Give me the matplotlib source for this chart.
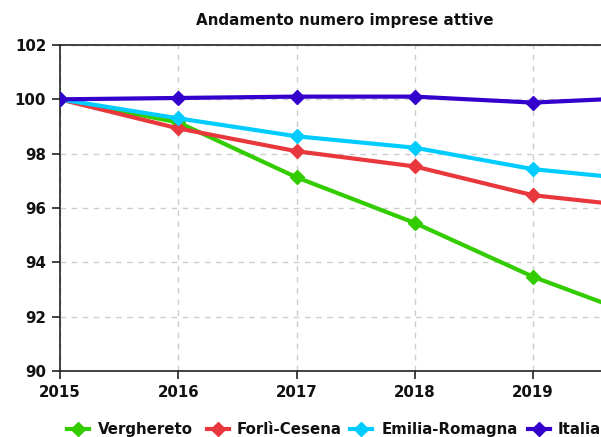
import matplotlib
matplotlib.use("Agg")
import matplotlib.pyplot as plt
from matplotlib.lines import Line2D

years = [2015, 2016, 2017, 2018, 2019, 2020]
verghereto = [100.0, 99.15, 97.13, 95.45, 93.47, 91.85]
forli = [100.0, 98.93, 98.09, 97.53, 96.47, 96.0]
emilia = [100.0, 99.3, 98.64, 98.22, 97.43, 97.0]
italia = [100.0, 100.05, 100.1, 100.1, 99.88, 100.08]

names = ["Verghereto", "Forlì-Cesena", "Emilia-Romagna", "Italia"]
values = [verghereto, forli, emilia, italia]
colors = ["#33cc00", "#e8383d", "#00ccff", "#3300cc"]
yticks = [90, 92, 94, 96, 98, 100, 102]
xticks = [2015, 2016, 2017, 2018, 2019]

W, H = 601, 437
fig = plt.figure(figsize=(W / 100, H / 100), dpi=100)
left, right_px = 60, 60 + 5 * 118.25
top, bottom = 45, 371
ax = fig.add_axes([left / W, 1 - bottom / H, (right_px - left) / W, (bottom - top) / H])

for name, vals, col in zip(names, values, colors):
    ax.plot(years, vals, color=col, lw=3, marker="D", markersize=7.5, label=name,
            clip_on=True, zorder=3)

ax.set_xlim(2015, 2020)
ax.set_ylim(90, 102)
ax.set_xticks(xticks)
ax.set_yticks(yticks)
ax.grid(True, color="#cccccc", linestyle=(0, (4, 4)), linewidth=1)
for s in ["left", "top", "bottom"]:
    ax.spines[s].set_color("#222222")
    ax.spines[s].set_linewidth(1.2)
ax.tick_params(axis="both", direction="out", length=6, width=1.2, color="#222222",
               labelsize=10.8, pad=4)
for lab in ax.get_xticklabels() + ax.get_yticklabels():
    lab.set_fontweight("bold")
    lab.set_color("#111111")

fig.text(345 / W, 1 - 21 / H, "Andamento numero imprese attive", ha="center", va="center",
         fontsize=10.9, fontweight="bold", color="#111111")

# manual legend (layout positions in pixels)
handle_x = [67, 207, 350, 528]
text_x = [98, 237, 382, 558]
handle_y, text_base = 429, 434
for name, col, hx, tx in zip(names, colors, handle_x, text_x):
    fig.add_artist(Line2D([hx / W, (hx + 22) / W], [1 - handle_y / H] * 2,
                          transform=fig.transFigure, color=col, lw=3))
    fig.add_artist(Line2D([(hx + 11) / W], [1 - handle_y / H], transform=fig.transFigure,
                          color=col, marker="D", markersize=7.5, lw=0))
    fig.text(tx / W, 1 - text_base / H, name, ha="left", va="baseline",
             fontsize=10.8, fontweight="bold", color="#111111")

fig.savefig("out.png", dpi=100)
